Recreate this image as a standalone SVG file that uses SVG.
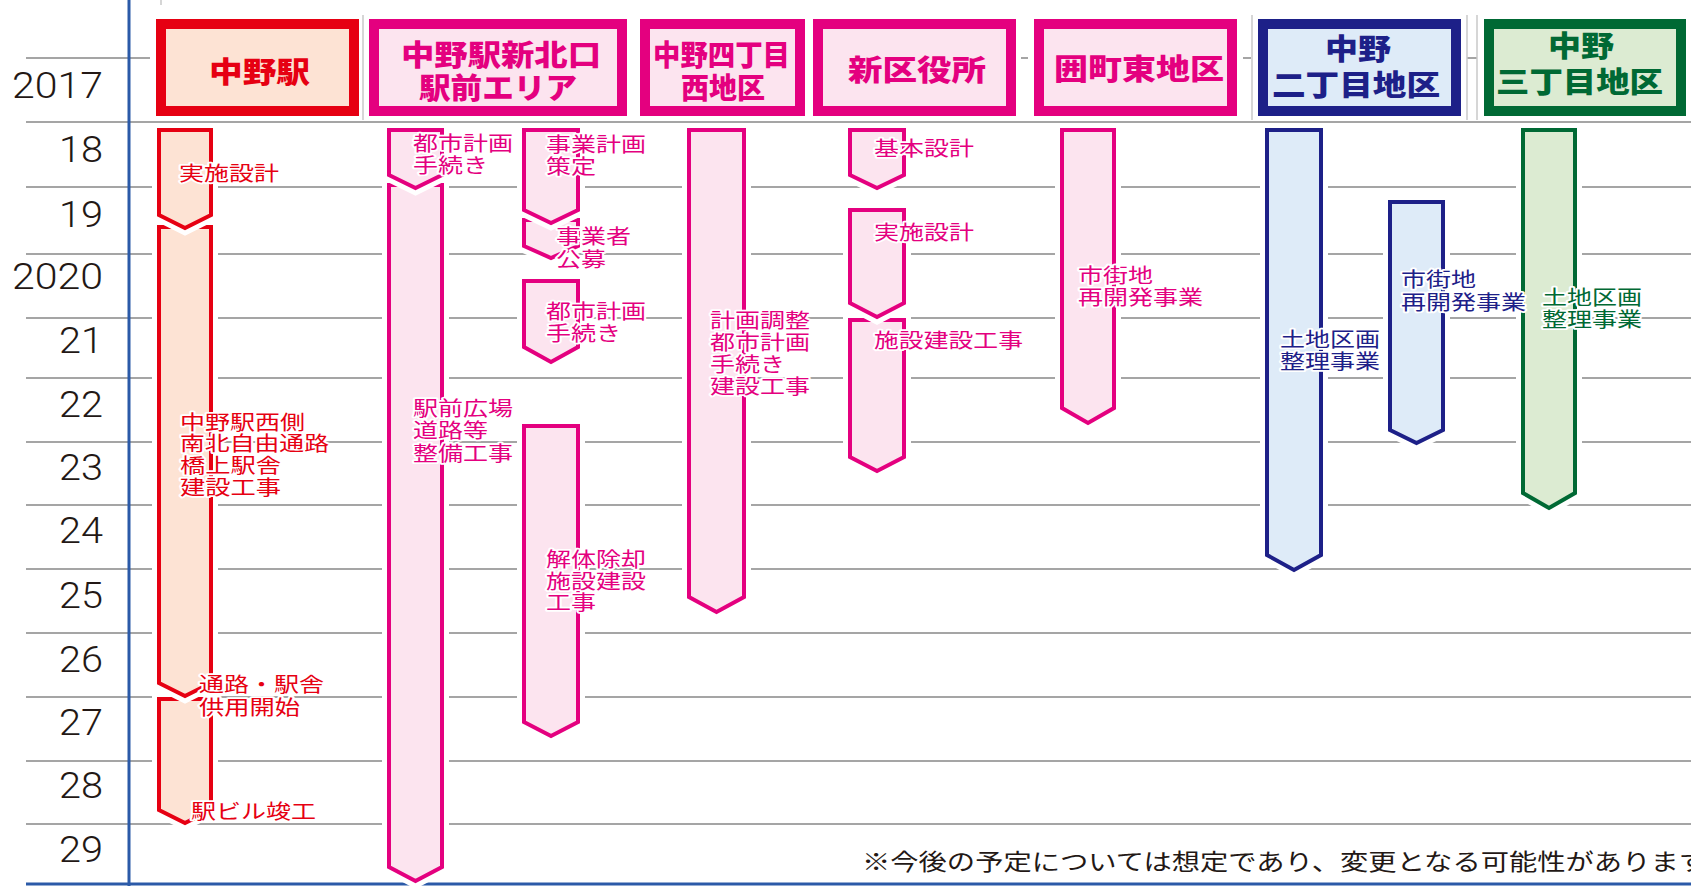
<svg xmlns="http://www.w3.org/2000/svg" width="1691" height="886" viewBox="0 0 1691 886">
<style>
.grid{stroke:#a5a5a5;stroke-width:2;fill:none}
.vgrid{stroke:#c8c8c8;stroke-width:1.5;fill:none}
.yr{font-family:Roboto,"Open Sans",sans-serif;font-weight:300;font-size:36px;fill:#231815}
.hd{font-family:"Noto Sans CJK JP","Noto Sans CJK SC",sans-serif;font-weight:900;font-size:29px;dominant-baseline:central}
.lb{font-family:"Noto Sans CJK JP","Noto Sans CJK SC",sans-serif;font-size:20px;dominant-baseline:central;stroke:#fff;stroke-width:3.5px;paint-order:stroke;stroke-linejoin:round}
.note{font-family:"Noto Sans CJK JP","Noto Sans CJK SC",sans-serif;font-size:23px;fill:#231815;dominant-baseline:central}
.halo{fill:none;stroke:#fff;stroke-width:14;stroke-linejoin:miter}
.bar{stroke-width:4;stroke-linejoin:miter}
.box{stroke-width:10}
.r{stroke:#e60012;fill:#fde3d4}
.m{stroke:#e4007f;fill:#fce4ef}
.n{stroke:#1d2088;fill:#deebf8}
.g{stroke:#006934;fill:#dcebd2}
.tr{fill:#e60012}
.tm{fill:#e4007f}
.tn{fill:#1d2088}
.tg{fill:#006934}
</style>

<g id="grid">
<line class="vgrid" x1="161" y1="0" x2="161" y2="5"/>
<line class="grid" x1="26" y1="58" x2="150" y2="58"/>
<line class="vgrid" x1="363" y1="15" x2="363" y2="120"/>
<line class="grid" x1="1021" y1="58" x2="1028" y2="58"/>
<line class="grid" x1="1243" y1="58" x2="1251" y2="58"/>
<line class="vgrid" x1="1252" y1="15" x2="1252" y2="120"/>
<line class="grid" x1="1467" y1="58" x2="1477" y2="58"/>
<line class="vgrid" x1="1467" y1="15" x2="1467" y2="120"/>
<line class="vgrid" x1="1477" y1="15" x2="1477" y2="120"/>
<line class="grid" x1="26" y1="122" x2="1691" y2="122"/>
<line class="grid" x1="26" y1="187" x2="1691" y2="187"/>
<line class="grid" x1="26" y1="254" x2="1691" y2="254"/>
<line class="grid" x1="26" y1="318" x2="1691" y2="318"/>
<line class="grid" x1="26" y1="378" x2="1691" y2="378"/>
<line class="grid" x1="26" y1="442" x2="1691" y2="442"/>
<line class="grid" x1="26" y1="505" x2="1691" y2="505"/>
<line class="grid" x1="26" y1="569" x2="1691" y2="569"/>
<line class="grid" x1="26" y1="633" x2="1691" y2="633"/>
<line class="grid" x1="26" y1="697" x2="1691" y2="697"/>
<line class="grid" x1="26" y1="761" x2="1691" y2="761"/>
<line class="grid" x1="26" y1="824" x2="1691" y2="824"/>
<line x1="129" y1="0" x2="129" y2="886" stroke="#2b5aa8" stroke-width="3"/>
<line x1="26" y1="884" x2="1691" y2="884" stroke="#2b5aa8" stroke-width="3"/>
</g>

<g id="years">
<text class="yr" x="12" y="98" textLength="91" lengthAdjust="spacingAndGlyphs">2017</text>
<text class="yr" x="59" y="162" textLength="44" lengthAdjust="spacingAndGlyphs">18</text>
<text class="yr" x="59" y="227" textLength="44" lengthAdjust="spacingAndGlyphs">19</text>
<text class="yr" x="12" y="289" textLength="91" lengthAdjust="spacingAndGlyphs">2020</text>
<text class="yr" x="59" y="353" textLength="44" lengthAdjust="spacingAndGlyphs">21</text>
<text class="yr" x="59" y="417" textLength="44" lengthAdjust="spacingAndGlyphs">22</text>
<text class="yr" x="59" y="480" textLength="44" lengthAdjust="spacingAndGlyphs">23</text>
<text class="yr" x="59" y="543" textLength="44" lengthAdjust="spacingAndGlyphs">24</text>
<text class="yr" x="59" y="608" textLength="44" lengthAdjust="spacingAndGlyphs">25</text>
<text class="yr" x="59" y="672" textLength="44" lengthAdjust="spacingAndGlyphs">26</text>
<text class="yr" x="59" y="735" textLength="44" lengthAdjust="spacingAndGlyphs">27</text>
<text class="yr" x="59" y="798" textLength="44" lengthAdjust="spacingAndGlyphs">28</text>
<text class="yr" x="59" y="862" textLength="44" lengthAdjust="spacingAndGlyphs">29</text>
</g>

<g id="h-nakano-eki">
<rect class="box r" x="161" y="24" width="193" height="87"/>
<text class="hd tr" x="209" y="70" textLength="101" lengthAdjust="spacingAndGlyphs">中野駅</text>
</g>
<g id="h-kitaguchi">
<rect class="box m" x="374" y="24" width="248" height="87"/>
<text class="hd tm" x="401" y="53" textLength="200" lengthAdjust="spacingAndGlyphs">中野駅新北口</text>
<text class="hd tm" x="419" y="86" textLength="158" lengthAdjust="spacingAndGlyphs">駅前エリア</text>
</g>
<g id="h-yonchome">
<rect class="box m" x="645" y="24" width="155" height="87"/>
<text class="hd tm" x="653" y="53" textLength="137" lengthAdjust="spacingAndGlyphs">中野四丁目</text>
<text class="hd tm" x="681" y="86" textLength="84" lengthAdjust="spacingAndGlyphs">西地区</text>
</g>
<g id="h-kuyakusho">
<rect class="box m" x="818" y="24" width="193" height="87"/>
<text class="hd tm" x="848" y="68" textLength="138" lengthAdjust="spacingAndGlyphs">新区役所</text>
</g>
<g id="h-kakoi">
<rect class="box m" x="1039" y="24" width="193" height="87"/>
<text class="hd tm" x="1054" y="67" textLength="170" lengthAdjust="spacingAndGlyphs">囲町東地区</text>
</g>
<g id="h-nichome">
<rect class="box n" x="1263" y="24" width="193" height="87"/>
<text class="hd tn" x="1325" y="47" textLength="66" lengthAdjust="spacingAndGlyphs">中野</text>
<text class="hd tn" x="1272" y="83" textLength="168" lengthAdjust="spacingAndGlyphs">二丁目地区</text>
</g>
<g id="h-sanchome">
<rect class="box g" x="1489" y="24" width="192" height="87"/>
<text class="hd tg" x="1548" y="44" textLength="66" lengthAdjust="spacingAndGlyphs">中野</text>
<text class="hd tg" x="1496" y="80" textLength="167" lengthAdjust="spacingAndGlyphs">三丁目地区</text>
</g>

<g id="connectors"></g>

<g id="bar-eki-c">
<path class="halo" d="M159,699H211V810L185,823L159,810Z"/>
<path class="bar r" d="M159,699H211V810L185,823L159,810Z"/>
</g>
<g id="bar-eki-b">
<path class="halo" d="M159,227H211V683L185,696L159,683Z"/>
<path class="bar r" d="M159,227H211V683L185,696L159,683Z"/>
</g>
<g id="bar-eki-a">
<path class="halo" d="M159,130H211V215L185,228L159,215Z"/>
<path class="bar r" d="M159,130H211V215L185,228L159,215Z"/>
</g>

<g id="bar-kita-b">
<path class="halo" d="M389,185H442V867L415.5,881L389,867Z"/>
<path class="bar m" d="M389,185H442V867L415.5,881L389,867Z"/>
</g>
<g id="bar-kita-a">
<path class="halo" d="M389,130H442V175L415.5,188L389,175Z"/>
<path class="bar m" d="M389,130H442V175L415.5,188L389,175Z"/>
</g>
<g id="bar-kita-f">
<path class="halo" d="M524,426H578V722L551,736L524,722Z"/>
<path class="bar m" d="M524,426H578V722L551,736L524,722Z"/>
</g>
<g id="bar-kita-e">
<path class="halo" d="M524,281H578V347L551,362L524,347Z"/>
<path class="bar m" d="M524,281H578V347L551,362L524,347Z"/>
</g>
<g id="bar-kita-d">
<path class="halo" d="M524,220H578V246L551,258L524,246Z"/>
<path class="bar m" d="M524,220H578V246L551,258L524,246Z"/>
</g>
<g id="bar-kita-c">
<path class="halo" d="M524,130H578V210L551,223L524,210Z"/>
<path class="bar m" d="M524,130H578V210L551,223L524,210Z"/>
</g>

<g id="bar-yonchome">
<path class="halo" d="M689,130H744V597L716.5,612L689,597Z"/>
<path class="bar m" d="M689,130H744V597L716.5,612L689,597Z"/>
</g>

<g id="bar-kuyakusho-c">
<path class="halo" d="M850,320H904V457L877,471L850,457Z"/>
<path class="bar m" d="M850,320H904V457L877,471L850,457Z"/>
</g>
<g id="bar-kuyakusho-b">
<path class="halo" d="M850,210H904V303L877,317L850,303Z"/>
<path class="bar m" d="M850,210H904V303L877,317L850,303Z"/>
</g>
<g id="bar-kuyakusho-a">
<path class="halo" d="M850,130H904V175L877,188L850,175Z"/>
<path class="bar m" d="M850,130H904V175L877,188L850,175Z"/>
</g>

<g id="bar-kakoi">
<path class="halo" d="M1062,130H1114V408L1088,423L1062,408Z"/>
<path class="bar m" d="M1062,130H1114V408L1088,423L1062,408Z"/>
</g>

<g id="bar-nichome-a">
<path class="halo" d="M1267,130H1321V555L1294,570L1267,555Z"/>
<path class="bar n" d="M1267,130H1321V555L1294,570L1267,555Z"/>
</g>
<g id="bar-nichome-b">
<path class="halo" d="M1390,202H1443V430L1416.5,443L1390,430Z"/>
<path class="bar n" d="M1390,202H1443V430L1416.5,443L1390,430Z"/>
</g>

<g id="bar-sanchome">
<path class="halo" d="M1523,130H1575V493L1549,508L1523,493Z"/>
<path class="bar g" d="M1523,130H1575V493L1549,508L1523,493Z"/>
</g>

<g id="labels">
<text class="lb tr" x="179" y="172" textLength="100" lengthAdjust="spacingAndGlyphs">実施設計</text>
<text class="lb tr" x="180" y="421" textLength="125" lengthAdjust="spacingAndGlyphs">中野駅西側</text>
<text class="lb tr" x="180" y="442.5" textLength="149" lengthAdjust="spacingAndGlyphs">南北自由通路</text>
<text class="lb tr" x="180" y="464.5" textLength="101" lengthAdjust="spacingAndGlyphs">橋上駅舎</text>
<text class="lb tr" x="180" y="486" textLength="101" lengthAdjust="spacingAndGlyphs">建設工事</text>
<text class="lb tr" x="199" y="683" textLength="125" lengthAdjust="spacingAndGlyphs">通路・駅舎</text>
<text class="lb tr" x="199" y="706" textLength="101" lengthAdjust="spacingAndGlyphs">供用開始</text>
<text class="lb tr" x="191" y="810" textLength="125" lengthAdjust="spacingAndGlyphs">駅ビル竣工</text>

<text class="lb tm" x="413" y="142" textLength="100" lengthAdjust="spacingAndGlyphs">都市計画</text>
<text class="lb tm" x="413" y="164" textLength="75" lengthAdjust="spacingAndGlyphs">手続き</text>
<text class="lb tm" x="413" y="407" textLength="100" lengthAdjust="spacingAndGlyphs">駅前広場</text>
<text class="lb tm" x="413" y="429.5" textLength="75" lengthAdjust="spacingAndGlyphs">道路等</text>
<text class="lb tm" x="413" y="452.5" textLength="100" lengthAdjust="spacingAndGlyphs">整備工事</text>
<text class="lb tm" x="546" y="143" textLength="100" lengthAdjust="spacingAndGlyphs">事業計画</text>
<text class="lb tm" x="546" y="165" textLength="50" lengthAdjust="spacingAndGlyphs">策定</text>
<text class="lb tm" x="556" y="235.5" textLength="75" lengthAdjust="spacingAndGlyphs">事業者</text>
<text class="lb tm" x="556" y="258.5" textLength="50" lengthAdjust="spacingAndGlyphs">公募</text>
<text class="lb tm" x="546" y="310.5" textLength="100" lengthAdjust="spacingAndGlyphs">都市計画</text>
<text class="lb tm" x="546" y="332.5" textLength="75" lengthAdjust="spacingAndGlyphs">手続き</text>
<text class="lb tm" x="546" y="558" textLength="100" lengthAdjust="spacingAndGlyphs">解体除却</text>
<text class="lb tm" x="546" y="580" textLength="100" lengthAdjust="spacingAndGlyphs">施設建設</text>
<text class="lb tm" x="546" y="601" textLength="50" lengthAdjust="spacingAndGlyphs">工事</text>

<text class="lb tm" x="710" y="319.5" textLength="100" lengthAdjust="spacingAndGlyphs">計画調整</text>
<text class="lb tm" x="710" y="341.5" textLength="100" lengthAdjust="spacingAndGlyphs">都市計画</text>
<text class="lb tm" x="710" y="363.5" textLength="75" lengthAdjust="spacingAndGlyphs">手続き</text>
<text class="lb tm" x="710" y="385.5" textLength="100" lengthAdjust="spacingAndGlyphs">建設工事</text>

<text class="lb tm" x="874" y="147.5" textLength="100" lengthAdjust="spacingAndGlyphs">基本設計</text>
<text class="lb tm" x="874" y="231.5" textLength="100" lengthAdjust="spacingAndGlyphs">実施設計</text>
<text class="lb tm" x="874" y="339" textLength="149" lengthAdjust="spacingAndGlyphs">施設建設工事</text>

<text class="lb tm" x="1078" y="274" textLength="75" lengthAdjust="spacingAndGlyphs">市街地</text>
<text class="lb tm" x="1078" y="296.5" textLength="125" lengthAdjust="spacingAndGlyphs">再開発事業</text>

<text class="lb tn" x="1280" y="338" textLength="100" lengthAdjust="spacingAndGlyphs">土地区画</text>
<text class="lb tn" x="1280" y="360.5" textLength="100" lengthAdjust="spacingAndGlyphs">整理事業</text>
<text class="lb tn" x="1401" y="278.5" textLength="75" lengthAdjust="spacingAndGlyphs">市街地</text>
<text class="lb tn" x="1401" y="301.5" textLength="125" lengthAdjust="spacingAndGlyphs">再開発事業</text>

<text class="lb tg" x="1542" y="296" textLength="100" lengthAdjust="spacingAndGlyphs">土地区画</text>
<text class="lb tg" x="1542" y="318" textLength="100" lengthAdjust="spacingAndGlyphs">整理事業</text>

<text class="note" x="862" y="860" textLength="845" lengthAdjust="spacingAndGlyphs">※今後の予定については想定であり、変更となる可能性があります</text>
</g>
</svg>
